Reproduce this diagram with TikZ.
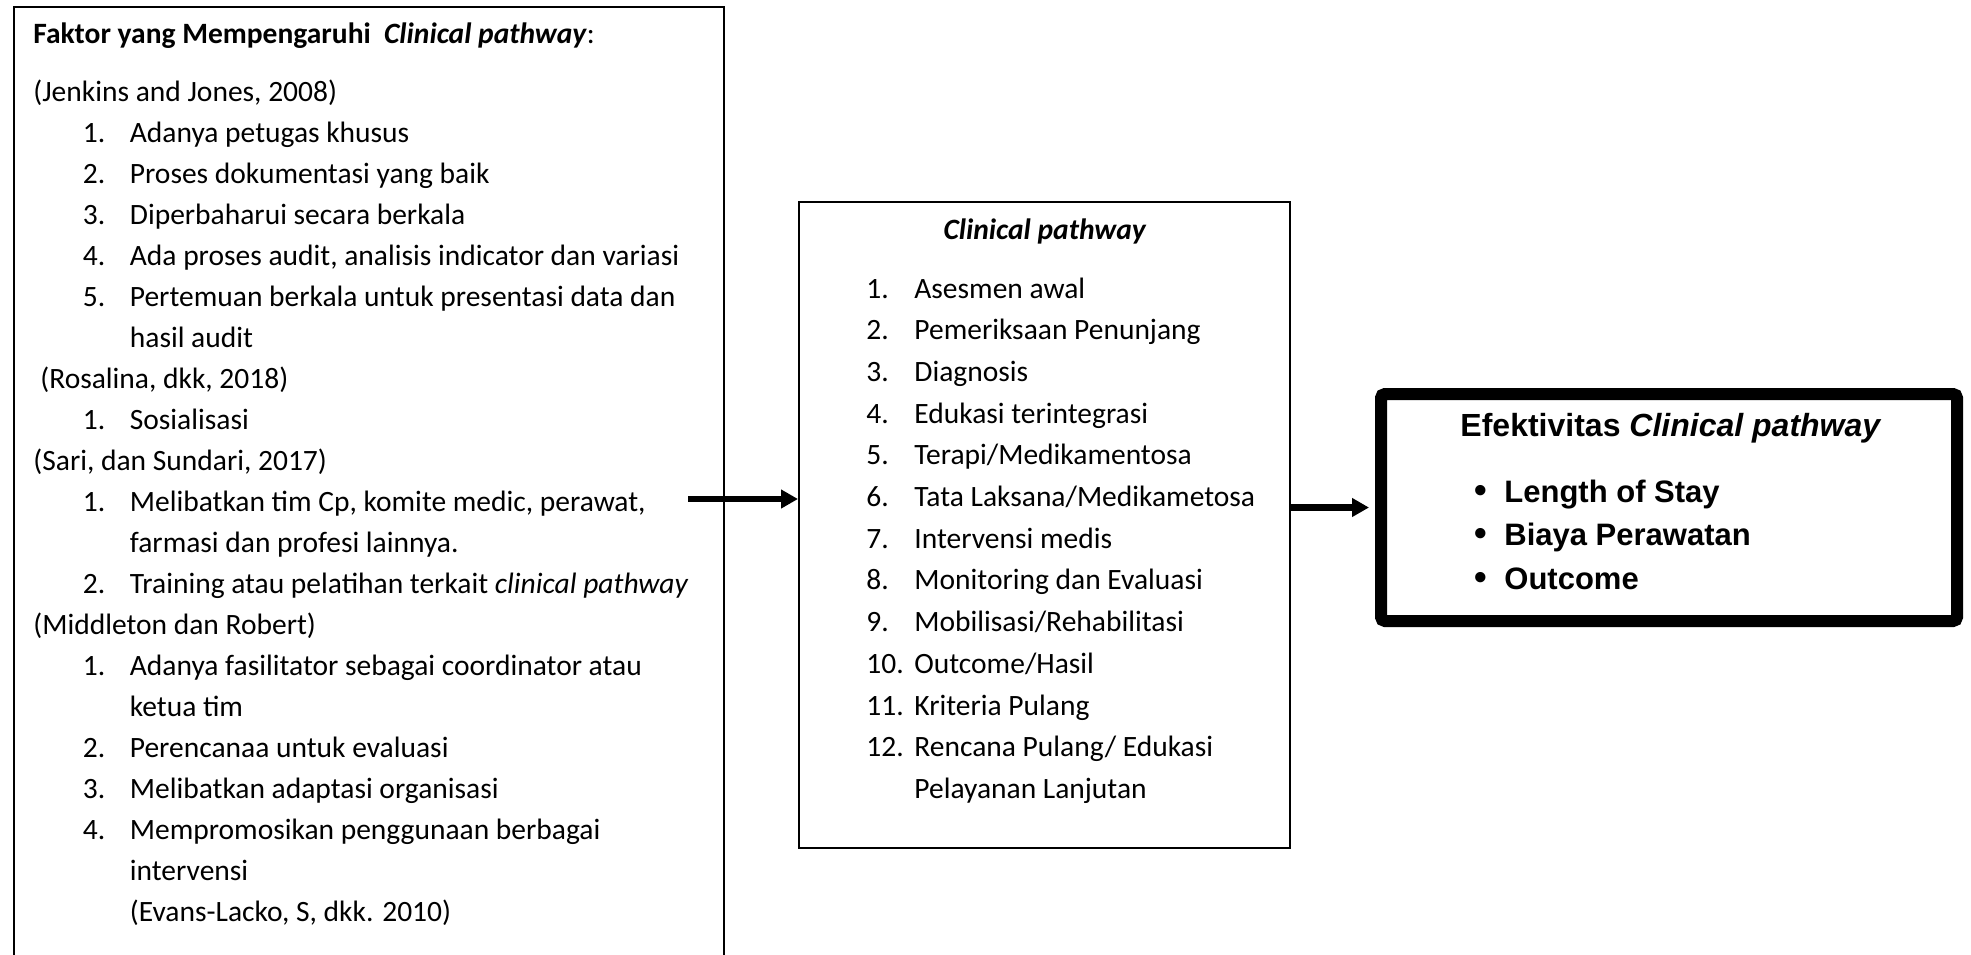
\documentclass[tikz,border=0pt]{standalone}
\usepackage{fontspec}
\setmainfont{Carlito}
\newfontfamily\arialf{Liberation Sans}
\usetikzlibrary{arrows.meta}
\newcommand\numit[2]{\makebox[23.5pt][l]{#1}#2}
\newcommand\numitb[2]{\makebox[24pt][l]{#1}#2}
\newcommand\bulit[1]{\makebox[15pt][l]{\raisebox{-0.3pt}{\fontsize{18pt}{18pt}\selectfont\textbullet}}#1}
\begin{document}
\begin{tikzpicture}[x=0.5pt,y=-0.5pt,
  frame/.style={draw=black, line width=1pt, inner sep=0pt, anchor=north west},
  txt/.style={anchor=base west, inner sep=0pt, font=\fontsize{14.75pt}{18pt}\selectfont},
  ctxt/.style={txt, anchor=base},
  rtxt/.style={anchor=base west, inner sep=0pt, font=\arialf\bfseries\fontsize{15.5pt}{19pt}\selectfont},
  arr/.style={line width=3.2pt, -{Triangle[length=8.5pt,width=9pt]}}]
\useasboundingbox (0,0) rectangle (1971,954);
\clip (0,0) rectangle (1971,954);
% boxes
\node[frame, minimum width=355pt, minimum height=550pt] (factors) at (13,5.5) {};
\node[frame, minimum width=245.5pt, minimum height=323pt] (cp) at (798,201) {};
\node[frame, line width=6pt, rounded corners=2pt, minimum width=288pt, minimum height=113.5pt] (eff) at (1375,388) {};
% connectors
\coordinate (a1) at (688,499);
\draw[arr] (a1) -- (a1 -| cp.west);
\draw[arr, shorten >=3pt] (eff.west -| cp.east) -- (eff.west);
% left box text
\node[txt] (ft) at (33,43) {\textbf{Faktor yang Mempengaruhi\ \ \textit{Clinical pathway}}:};
\node[txt] (f0) at (33,101.0) {(Jenkins and Jones, 2008)};
\node[txt] (f1) at (82.5,142.0) {\numit{1.}{Adanya petugas khusus}};
\node[txt] (f2) at (82.5,183.0) {\numit{2.}{Proses dokumentasi yang baik}};
\node[txt] (f3) at (82.5,224.0) {\numit{3.}{Diperbaharui secara berkala}};
\node[txt] (f4) at (82.5,265.0) {\numit{4.}{Ada proses audit, analisis indicator dan variasi}};
\node[txt] (f5) at (82.5,306.0) {\numit{5.}{Pertemuan berkala untuk presentasi data dan}};
\node[txt] (f6) at (129.5,347.0) {hasil audit};
\node[txt] (f7) at (40,388.0) {(Rosalina, dkk, 2018)};
\node[txt] (f8) at (82.5,429.0) {\numit{1.}{Sosialisasi}};
\node[txt] (f9) at (33,470.0) {(Sari, dan Sundari, 2017)};
\node[txt] (f10) at (82.5,511.0) {\numit{1.}{Melibatkan tim Cp, komite medic, perawat,}};
\node[txt] (f11) at (129.5,552.0) {farmasi dan profesi lainnya.};
\node[txt] (f12) at (82.5,593.0) {\numit{2.}{Training atau pelatihan terkait \textit{clinical pathway}}};
\node[txt] (f13) at (33,634.0) {(Middleton dan Robert)};
\node[txt] (f14) at (82.5,675.0) {\numit{1.}{Adanya fasilitator sebagai coordinator atau}};
\node[txt] (f15) at (129.5,716.0) {ketua tim};
\node[txt] (f16) at (82.5,757.0) {\numit{2.}{Perencanaa untuk evaluasi}};
\node[txt] (f17) at (82.5,798.0) {\numit{3.}{Melibatkan adaptasi organisasi}};
\node[txt] (f18) at (82.5,839.0) {\numit{4.}{Mempromosikan penggunaan berbagai}};
\node[txt] (f19) at (129.5,880.0) {intervensi};
\node[txt] (f20) at (129.5,921.0) {(Evans-Lacko, S, dkk. 2010)};
% middle box text
\node[ctxt] (ct) at (1045,239) {\textbf{\textit{Clinical pathway}}};
\node[txt] (c1) at (866,298.0) {\numitb{1.}{Asesmen awal}};
\node[txt] (c2) at (866,339.7) {\numitb{2.}{Pemeriksaan Penunjang}};
\node[txt] (c3) at (866,381.4) {\numitb{3.}{Diagnosis}};
\node[txt] (c4) at (866,423.1) {\numitb{4.}{Edukasi terintegrasi}};
\node[txt] (c5) at (866,464.8) {\numitb{5.}{Terapi/Medikamentosa}};
\node[txt] (c6) at (866,506.5) {\numitb{6.}{Tata Laksana/Medikametosa}};
\node[txt] (c7) at (866,548.2) {\numitb{7.}{Intervensi medis}};
\node[txt] (c8) at (866,589.9) {\numitb{8.}{Monitoring dan Evaluasi}};
\node[txt] (c9) at (866,631.6) {\numitb{9.}{Mobilisasi/Rehabilitasi}};
\node[txt] (c10) at (866,673.3) {\numitb{10.}{Outcome/Hasil}};
\node[txt] (c11) at (866,715.0) {\numitb{11.}{Kriteria Pulang}};
\node[txt] (c12) at (866,756.7) {\numitb{12.}{Rencana Pulang/ Edukasi}};
\node[txt] (c13) at (914,798.4) {Pelayanan Lanjutan};
% right box text
\node[rtxt, anchor=base, font=\arialf\bfseries\fontsize{16pt}{19pt}\selectfont] (et) at (1671,436) {Efektivitas \textit{Clinical pathway}};
\node[rtxt] (e1) at (1474,502) {\bulit{Length of Stay}};
\node[rtxt] (e2) at (1474,545) {\bulit{Biaya Perawatan}};
\node[rtxt] (e3) at (1474,589) {\bulit{Outcome}};
\end{tikzpicture}
\end{document}
